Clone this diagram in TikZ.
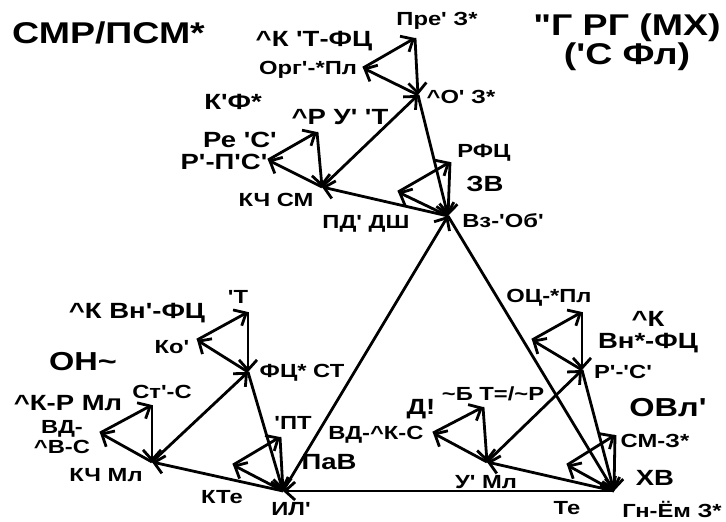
\documentclass[tikz,border=0pt]{standalone}
\usepackage{fontspec}
\newfontfamily\lab{Liberation Sans}[FakeStretch=1.25]
\usetikzlibrary{arrows.meta}
\begin{document}
\begin{tikzpicture}[x=1pt,y=-1pt,
  ed/.style={line width=2.8pt,-{Straight Barb[length=10pt,width=18pt]}},
  s/.style={font=\lab\bfseries\fontsize{19}{20}\selectfont,inner sep=0pt,align=center},
  m/.style={font=\lab\bfseries\fontsize{22}{22}\selectfont,inner sep=0pt,align=center},
  b/.style={font=\lab\bfseries\fontsize{26}{26}\selectfont,inner sep=0pt,align=center},
  h/.style={font=\lab\bfseries\fontsize{30}{27}\selectfont,inner sep=0pt,align=center}]
\useasboundingbox[fill=white] (0,0) rectangle (726,522);
% hubs with their small triangles (hub, top, left)
\foreach \n/\x/\y/\tx/\ty/\lx/\ly in {
  A1/418/95/415/38/363/68,
  A2/322/187/317/132/268/160,
  A3/448/216/450/162/398/192,
  B1/248/372/248/312/197/340,
  B2/152/462/152/405/100/433,
  B3/283/491/280/437/233/465,
  C1/582/370/582/312/532/340,
  C2/487/462/483/407/433/433,
  C3/614/491/615/435/567/465}{
  \coordinate (\n) at (\x,\y);
  \coordinate (\n t) at (\tx,\ty);
  \coordinate (\n l) at (\lx,\ly);
  \draw[ed] (\n) -- (\n l);
  \draw[ed] (\n l) -- (\n t);
  \draw[ed] (\n t) -- (\n);
}
% sub-triangles
\foreach \g in {A,B,C}{
  \draw[ed] (\g2) -- (\g1);
  \draw[ed] (\g1) -- (\g3);
  \draw[ed] (\g3) -- (\g2);
}
% main triangle
\draw[ed] (C3) -- (B3);
\draw[ed] (B3) -- (A3);
\draw[ed] (A3) -- (C3);
% titles
\node[h,anchor=west] (t1) at (12,33) {СМР/ПСМ*};
\node[h] (t2) at (627,42) {"Г РГ (МХ)\\('С Фл)};
% top cluster labels
\node[s] (lA1t) at (437,21) {Пре' З*};
\node[m] (gA1) at (314,41) {\string^К 'Т-ФЦ};
\node[s] (lA1l) at (308,70) {Орг'-*Пл};
\node[s] (lA1) at (461,97) {\string^О' З*};
\node[m] (gA2) at (233,102) {К'Ф*};
\node[m] (lA2t) at (340,117) {\string^Р У' 'Т};
\node[m] (lA2g) at (240,140) {Ре 'С'};
\node[m] (lA2l) at (224,162) {Р'-П'С'};
\node[s] (lA2) at (276,200) {КЧ СМ};
\node[s] (eA32) at (366,224) {ПД' ДШ};
\node[s] (lA3t) at (484,153) {РФЦ};
\node[m] (gA3) at (485,184) {ЗВ};
\node[s] (lA3) at (503,221) {Вз-'Об'};
% bottom-left cluster labels
\node[m] (gB1) at (137,313) {\string^К Вн'-ФЦ};
\node[s] (lB1t) at (238,297) {'Т};
\node[s] (lB1l) at (172,347) {Ко'};
\node[b] (gB) at (83,362) {ОН\string~};
\node[s] (lB1) at (302,373) {ФЦ* СТ};
\node[s] (lB2t) at (162,392) {Ст'-С};
\node[m] (gB2) at (68,403) {\string^К-Р Мл};
\node[s] (lB2l) at (62,437) {ВД-\\\string^В-С};
\node[s] (lB2) at (106,475) {КЧ Мл};
\node[s] (lB3t) at (293,423) {'ПТ};
\node[m] (gB3) at (329,462) {ПаВ};
\node[s] (eB32) at (222,497) {КТе};
\node[s] (lB3) at (291,509) {ИЛ'};
% bottom-right cluster labels
\node[s] (eBA) at (376,435) {ВД-\string^К-С};
\node[m] (gC2) at (421,409) {Д!};
\node[s] (lC2t) at (493,394) {\string~Б Т=/\string~Р};
\node[s] (lC2) at (486,482) {У' Мл};
\node[s] (lC1t) at (549,298) {ОЦ-*Пл};
\node[m] (gC1) at (648,332) {\string^К\\Вн*-ФЦ};
\node[s] (lC1) at (623,372) {Р'-'С'};
\node[b] (gC) at (668,408) {ОВл'};
\node[s] (lC3t) at (655,441) {СМ-З*};
\node[m] (gC3) at (655,478) {ХВ};
\node[s] (eC32) at (567,508) {Те};
\node[s] (lC3) at (672,509) {Гн-Ём З*};
\end{tikzpicture}
\end{document}
